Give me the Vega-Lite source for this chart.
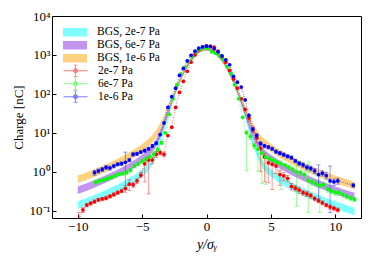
{
"$schema": "https://vega.github.io/schema/vega-lite/v6.json",
"width": 309, "height": 202,
"autosize": "none",
"padding": {"left": 52, "top": 16, "right": 13, "bottom": 41},
"config": {
  "font": "Liberation Serif",
  "view": {"stroke": "#000000", "strokeWidth": 1},
  "axis": {"grid": false, "domain": false, "tickColor": "#000000", "tickSize": -4, "labelColor": "#000000", "labelFont": "Liberation Serif", "labelFontSize": 13, "titleFont": "Liberation Serif", "titleFontWeight": "normal", "titleColor": "#000000", "titleFontSize": 13}
},
"datasets": {
"bgs": [
{"b":"BGS, 2e-7 Pa","x":-10,"lo":0.112,"hi":0.175},{"b":"BGS, 2e-7 Pa","x":-9,"lo":0.149,"hi":0.233},{"b":"BGS, 2e-7 Pa","x":-8,"lo":0.204,"hi":0.319},{"b":"BGS, 2e-7 Pa","x":-7,"lo":0.291,"hi":0.455},{"b":"BGS, 2e-7 Pa","x":-6,"lo":0.44,"hi":0.688},{"b":"BGS, 2e-7 Pa","x":-5,"lo":0.744,"hi":1.16},{"b":"BGS, 2e-7 Pa","x":-4.5,"lo":1.07,"hi":1.68},{"b":"BGS, 2e-7 Pa","x":-4,"lo":2.12,"hi":3.31},{"b":"BGS, 2e-7 Pa","x":-3.5,"lo":6.3,"hi":9.9},{"b":"BGS, 2e-7 Pa","x":-3,"lo":23.3,"hi":33.6},{"b":"BGS, 2e-7 Pa","x":-2.5,"lo":79.5,"hi":99.7},{"b":"BGS, 2e-7 Pa","x":-2,"lo":212,"hi":267},{"b":"BGS, 2e-7 Pa","x":-1.5,"lo":468,"hi":587},{"b":"BGS, 2e-7 Pa","x":-1,"lo":823,"hi":1033},{"b":"BGS, 2e-7 Pa","x":-0.5,"lo":1156,"hi":1450},{"b":"BGS, 2e-7 Pa","x":0,"lo":1295,"hi":1624},{"b":"BGS, 2e-7 Pa","x":0.5,"lo":1156,"hi":1450},{"b":"BGS, 2e-7 Pa","x":1,"lo":823,"hi":1033},{"b":"BGS, 2e-7 Pa","x":1.5,"lo":468,"hi":587},{"b":"BGS, 2e-7 Pa","x":2,"lo":212,"hi":267},{"b":"BGS, 2e-7 Pa","x":2.5,"lo":79.5,"hi":99.7},{"b":"BGS, 2e-7 Pa","x":3,"lo":23.3,"hi":33.6},{"b":"BGS, 2e-7 Pa","x":3.5,"lo":6.3,"hi":9.9},{"b":"BGS, 2e-7 Pa","x":4,"lo":2.12,"hi":3.31},{"b":"BGS, 2e-7 Pa","x":4.5,"lo":1.07,"hi":1.68},{"b":"BGS, 2e-7 Pa","x":5,"lo":0.744,"hi":1.16},{"b":"BGS, 2e-7 Pa","x":6,"lo":0.44,"hi":0.688},{"b":"BGS, 2e-7 Pa","x":7,"lo":0.291,"hi":0.455},{"b":"BGS, 2e-7 Pa","x":8,"lo":0.204,"hi":0.319},{"b":"BGS, 2e-7 Pa","x":9,"lo":0.149,"hi":0.233},{"b":"BGS, 2e-7 Pa","x":10,"lo":0.112,"hi":0.175},{"b":"BGS, 2e-7 Pa","x":11,"lo":0.086,"hi":0.135},{"b":"BGS, 2e-7 Pa","x":11.5,"lo":0.077,"hi":0.12},
{"b":"BGS, 6e-7 Pa","x":-10,"lo":0.269,"hi":0.42},{"b":"BGS, 6e-7 Pa","x":-9,"lo":0.357,"hi":0.558},{"b":"BGS, 6e-7 Pa","x":-8,"lo":0.49,"hi":0.765},{"b":"BGS, 6e-7 Pa","x":-7,"lo":0.699,"hi":1.09},{"b":"BGS, 6e-7 Pa","x":-6,"lo":1.06,"hi":1.65},{"b":"BGS, 6e-7 Pa","x":-5,"lo":1.74,"hi":2.73},{"b":"BGS, 6e-7 Pa","x":-4.5,"lo":2.4,"hi":3.75},{"b":"BGS, 6e-7 Pa","x":-4,"lo":3.94,"hi":6.16},{"b":"BGS, 6e-7 Pa","x":-3.5,"lo":8.96,"hi":14},{"b":"BGS, 6e-7 Pa","x":-3,"lo":27.5,"hi":39.6},{"b":"BGS, 6e-7 Pa","x":-2.5,"lo":85,"hi":106},{"b":"BGS, 6e-7 Pa","x":-2,"lo":216,"hi":271},{"b":"BGS, 6e-7 Pa","x":-1.5,"lo":471,"hi":590},{"b":"BGS, 6e-7 Pa","x":-1,"lo":824,"hi":1034},{"b":"BGS, 6e-7 Pa","x":-0.5,"lo":1157,"hi":1452},{"b":"BGS, 6e-7 Pa","x":0,"lo":1295,"hi":1624},{"b":"BGS, 6e-7 Pa","x":0.5,"lo":1157,"hi":1452},{"b":"BGS, 6e-7 Pa","x":1,"lo":824,"hi":1034},{"b":"BGS, 6e-7 Pa","x":1.5,"lo":471,"hi":590},{"b":"BGS, 6e-7 Pa","x":2,"lo":216,"hi":271},{"b":"BGS, 6e-7 Pa","x":2.5,"lo":85,"hi":106},{"b":"BGS, 6e-7 Pa","x":3,"lo":27.5,"hi":39.6},{"b":"BGS, 6e-7 Pa","x":3.5,"lo":8.96,"hi":14},{"b":"BGS, 6e-7 Pa","x":4,"lo":3.94,"hi":6.16},{"b":"BGS, 6e-7 Pa","x":4.5,"lo":2.4,"hi":3.75},{"b":"BGS, 6e-7 Pa","x":5,"lo":1.74,"hi":2.73},{"b":"BGS, 6e-7 Pa","x":6,"lo":1.06,"hi":1.65},{"b":"BGS, 6e-7 Pa","x":7,"lo":0.699,"hi":1.09},{"b":"BGS, 6e-7 Pa","x":8,"lo":0.49,"hi":0.765},{"b":"BGS, 6e-7 Pa","x":9,"lo":0.357,"hi":0.558},{"b":"BGS, 6e-7 Pa","x":10,"lo":0.269,"hi":0.42},{"b":"BGS, 6e-7 Pa","x":11,"lo":0.207,"hi":0.324},{"b":"BGS, 6e-7 Pa","x":11.5,"lo":0.184,"hi":0.288},
{"b":"BGS, 1e-6 Pa","x":-10,"lo":0.515,"hi":0.805},{"b":"BGS, 1e-6 Pa","x":-9,"lo":0.685,"hi":1.07},{"b":"BGS, 1e-6 Pa","x":-8,"lo":0.936,"hi":1.46},{"b":"BGS, 1e-6 Pa","x":-7,"lo":1.34,"hi":2.09},{"b":"BGS, 1e-6 Pa","x":-6,"lo":2.02,"hi":3.16},{"b":"BGS, 1e-6 Pa","x":-5,"lo":3.33,"hi":5.2},{"b":"BGS, 1e-6 Pa","x":-4.5,"lo":4.48,"hi":7.0},{"b":"BGS, 1e-6 Pa","x":-4,"lo":6.8,"hi":10.7},{"b":"BGS, 1e-6 Pa","x":-3.5,"lo":13,"hi":20.4},{"b":"BGS, 1e-6 Pa","x":-3,"lo":34.2,"hi":49.2},{"b":"BGS, 1e-6 Pa","x":-2.5,"lo":92,"hi":115},{"b":"BGS, 1e-6 Pa","x":-2,"lo":221,"hi":278},{"b":"BGS, 1e-6 Pa","x":-1.5,"lo":473,"hi":594},{"b":"BGS, 1e-6 Pa","x":-1,"lo":826,"hi":1036},{"b":"BGS, 1e-6 Pa","x":-0.5,"lo":1157,"hi":1452},{"b":"BGS, 1e-6 Pa","x":0,"lo":1295,"hi":1624},{"b":"BGS, 1e-6 Pa","x":0.5,"lo":1157,"hi":1452},{"b":"BGS, 1e-6 Pa","x":1,"lo":826,"hi":1036},{"b":"BGS, 1e-6 Pa","x":1.5,"lo":473,"hi":594},{"b":"BGS, 1e-6 Pa","x":2,"lo":221,"hi":278},{"b":"BGS, 1e-6 Pa","x":2.5,"lo":92,"hi":115},{"b":"BGS, 1e-6 Pa","x":3,"lo":34.2,"hi":49.2},{"b":"BGS, 1e-6 Pa","x":3.5,"lo":13,"hi":20.4},{"b":"BGS, 1e-6 Pa","x":4,"lo":6.8,"hi":10.7},{"b":"BGS, 1e-6 Pa","x":4.5,"lo":4.48,"hi":7.0},{"b":"BGS, 1e-6 Pa","x":5,"lo":3.33,"hi":5.2},{"b":"BGS, 1e-6 Pa","x":6,"lo":2.02,"hi":3.16},{"b":"BGS, 1e-6 Pa","x":7,"lo":1.34,"hi":2.09},{"b":"BGS, 1e-6 Pa","x":8,"lo":0.936,"hi":1.46},{"b":"BGS, 1e-6 Pa","x":9,"lo":0.685,"hi":1.07},{"b":"BGS, 1e-6 Pa","x":10,"lo":0.515,"hi":0.805},{"b":"BGS, 1e-6 Pa","x":11,"lo":0.398,"hi":0.621},{"b":"BGS, 1e-6 Pa","x":11.5,"lo":0.352,"hi":0.55}
],
"meas": [
{"s":"2e-7 Pa","x":-9.9,"v":0.06,"lo":0.03,"hi":0.09},{"s":"2e-7 Pa","x":-9.6,"v":0.105,"lo":0.09,"hi":0.12},{"s":"2e-7 Pa","x":-9.3,"v":0.14,"lo":0.125,"hi":0.155},{"s":"2e-7 Pa","x":-9.0,"v":0.155,"lo":0.14,"hi":0.17},{"s":"2e-7 Pa","x":-8.7,"v":0.17,"lo":0.155,"hi":0.19},{"s":"2e-7 Pa","x":-8.4,"v":0.19,"lo":0.17,"hi":0.21},{"s":"2e-7 Pa","x":-8.1,"v":0.2,"lo":0.18,"hi":0.22},{"s":"2e-7 Pa","x":-7.8,"v":0.21,"lo":0.19,"hi":0.235},{"s":"2e-7 Pa","x":-7.5,"v":0.235,"lo":0.21,"hi":0.26},{"s":"2e-7 Pa","x":-7.2,"v":0.26,"lo":0.235,"hi":0.29},{"s":"2e-7 Pa","x":-6.9,"v":0.29,"lo":0.26,"hi":0.32},{"s":"2e-7 Pa","x":-6.6,"v":0.32,"lo":0.29,"hi":0.36},{"s":"2e-7 Pa","x":-6.3,"v":0.37,"lo":0.3,"hi":0.45},{"s":"2e-7 Pa","x":-6.0,"v":0.48,"lo":0.33,"hi":0.62},{"s":"2e-7 Pa","x":-5.7,"v":0.46,"lo":0.4,"hi":0.53},{"s":"2e-7 Pa","x":-5.4,"v":0.58,"lo":0.5,"hi":0.66},{"s":"2e-7 Pa","x":-5.1,"v":0.82,"lo":0.7,"hi":0.95},{"s":"2e-7 Pa","x":-4.8,"v":1.6,"lo":0.55,"hi":1.9},{"s":"2e-7 Pa","x":-4.5,"v":2.0,"lo":0.27,"hi":2.4},{"s":"2e-7 Pa","x":-4.2,"v":2.0,"lo":1.6,"hi":2.4},{"s":"2e-7 Pa","x":-3.9,"v":2.8,"lo":2.3,"hi":3.3},{"s":"2e-7 Pa","x":-3.6,"v":3.1,"lo":2.7,"hi":3.6},{"s":"2e-7 Pa","x":-3.3,"v":2.8,"lo":2.4,"hi":3.2},{"s":"2e-7 Pa","x":-3.0,"v":8.5},{"s":"2e-7 Pa","x":-2.7,"v":14},{"s":"2e-7 Pa","x":-2.4,"v":45},{"s":"2e-7 Pa","x":-2.1,"v":110},{"s":"2e-7 Pa","x":-1.8,"v":210},{"s":"2e-7 Pa","x":-1.5,"v":380},{"s":"2e-7 Pa","x":-1.2,"v":650},{"s":"2e-7 Pa","x":-0.9,"v":1000},{"s":"2e-7 Pa","x":-0.6,"v":1350},{"s":"2e-7 Pa","x":-0.3,"v":1600},{"s":"2e-7 Pa","x":0.0,"v":1700},{"s":"2e-7 Pa","x":0.3,"v":1650},{"s":"2e-7 Pa","x":0.6,"v":1580},{"s":"2e-7 Pa","x":0.9,"v":1250},{"s":"2e-7 Pa","x":1.2,"v":900},{"s":"2e-7 Pa","x":1.5,"v":650},{"s":"2e-7 Pa","x":1.8,"v":400},{"s":"2e-7 Pa","x":2.1,"v":240},{"s":"2e-7 Pa","x":2.4,"v":140},{"s":"2e-7 Pa","x":2.7,"v":75},{"s":"2e-7 Pa","x":3.0,"v":40},{"s":"2e-7 Pa","x":3.3,"v":24,"lo":20,"hi":28},{"s":"2e-7 Pa","x":3.6,"v":12,"lo":10,"hi":14},{"s":"2e-7 Pa","x":3.9,"v":7.4,"lo":5.5,"hi":9},{"s":"2e-7 Pa","x":4.2,"v":4.0,"lo":1.0,"hi":5.5},{"s":"2e-7 Pa","x":4.5,"v":2.4,"lo":0.55,"hi":3.0},{"s":"2e-7 Pa","x":4.8,"v":1.7,"lo":0.52,"hi":2.2},{"s":"2e-7 Pa","x":5.1,"v":1.55,"lo":0.35,"hi":2.0},{"s":"2e-7 Pa","x":5.4,"v":1.4,"lo":0.9,"hi":1.8},{"s":"2e-7 Pa","x":5.7,"v":0.85,"lo":0.45,"hi":1.1},{"s":"2e-7 Pa","x":6.0,"v":0.78,"lo":0.6,"hi":0.95},{"s":"2e-7 Pa","x":6.3,"v":0.68,"lo":0.55,"hi":0.8},{"s":"2e-7 Pa","x":6.6,"v":0.42,"lo":0.34,"hi":0.5},{"s":"2e-7 Pa","x":6.9,"v":0.38,"lo":0.32,"hi":0.45},{"s":"2e-7 Pa","x":7.2,"v":0.34,"lo":0.28,"hi":0.4},{"s":"2e-7 Pa","x":7.5,"v":0.29,"lo":0.25,"hi":0.33},{"s":"2e-7 Pa","x":7.8,"v":0.27,"lo":0.23,"hi":0.31},{"s":"2e-7 Pa","x":8.1,"v":0.245,"lo":0.21,"hi":0.28},{"s":"2e-7 Pa","x":8.4,"v":0.205,"lo":0.18,"hi":0.23},{"s":"2e-7 Pa","x":8.7,"v":0.18,"lo":0.16,"hi":0.2},{"s":"2e-7 Pa","x":9.0,"v":0.16,"lo":0.14,"hi":0.18},{"s":"2e-7 Pa","x":9.3,"v":0.14,"lo":0.125,"hi":0.155},{"s":"2e-7 Pa","x":9.6,"v":0.125,"lo":0.11,"hi":0.14},{"s":"2e-7 Pa","x":9.9,"v":0.115,"lo":0.1,"hi":0.13},{"s":"2e-7 Pa","x":10.2,"v":0.105,"lo":0.093,"hi":0.118},
{"s":"6e-7 Pa","x":-8.6,"v":0.54,"lo":0.48,"hi":0.6},{"s":"6e-7 Pa","x":-8.3,"v":0.58,"lo":0.52,"hi":0.65},{"s":"6e-7 Pa","x":-8.0,"v":0.62,"lo":0.56,"hi":0.69},{"s":"6e-7 Pa","x":-7.7,"v":0.67,"lo":0.6,"hi":0.74},{"s":"6e-7 Pa","x":-7.4,"v":0.72,"lo":0.65,"hi":0.8},{"s":"6e-7 Pa","x":-7.1,"v":0.8,"lo":0.72,"hi":0.88},{"s":"6e-7 Pa","x":-6.8,"v":0.87,"lo":0.78,"hi":0.96},{"s":"6e-7 Pa","x":-6.5,"v":0.9,"lo":0.81,"hi":1.0},{"s":"6e-7 Pa","x":-6.2,"v":0.96,"lo":0.86,"hi":1.07},{"s":"6e-7 Pa","x":-5.9,"v":1.1,"lo":0.98,"hi":1.22},{"s":"6e-7 Pa","x":-5.6,"v":1.4,"lo":1.25,"hi":1.55},{"s":"6e-7 Pa","x":-5.3,"v":1.6,"lo":1.43,"hi":1.78},{"s":"6e-7 Pa","x":-5.0,"v":1.85,"lo":1.65,"hi":2.05},{"s":"6e-7 Pa","x":-4.7,"v":2.1,"lo":1.85,"hi":2.35},{"s":"6e-7 Pa","x":-4.4,"v":2.4,"lo":2.1,"hi":2.7},{"s":"6e-7 Pa","x":-4.1,"v":2.9,"lo":2.55,"hi":3.25},{"s":"6e-7 Pa","x":-3.8,"v":3.7,"lo":3.3,"hi":4.1},{"s":"6e-7 Pa","x":-3.5,"v":5.6,"lo":5.0,"hi":6.2},{"s":"6e-7 Pa","x":-3.2,"v":10},{"s":"6e-7 Pa","x":-2.9,"v":30},{"s":"6e-7 Pa","x":-2.6,"v":75},{"s":"6e-7 Pa","x":-2.3,"v":170},{"s":"6e-7 Pa","x":-2.0,"v":320},{"s":"6e-7 Pa","x":-1.7,"v":480},{"s":"6e-7 Pa","x":-1.4,"v":680},{"s":"6e-7 Pa","x":-1.1,"v":900},{"s":"6e-7 Pa","x":-0.8,"v":1200},{"s":"6e-7 Pa","x":-0.5,"v":1400},{"s":"6e-7 Pa","x":-0.2,"v":1550},{"s":"6e-7 Pa","x":0.1,"v":1500},{"s":"6e-7 Pa","x":0.4,"v":1200},{"s":"6e-7 Pa","x":0.7,"v":1100},{"s":"6e-7 Pa","x":1.0,"v":950},{"s":"6e-7 Pa","x":1.3,"v":760},{"s":"6e-7 Pa","x":1.6,"v":500},{"s":"6e-7 Pa","x":1.9,"v":330},{"s":"6e-7 Pa","x":2.2,"v":170},{"s":"6e-7 Pa","x":2.5,"v":75},{"s":"6e-7 Pa","x":2.8,"v":25},{"s":"6e-7 Pa","x":3.1,"v":10,"lo":1.05,"hi":11.5},{"s":"6e-7 Pa","x":3.4,"v":8,"lo":6.8,"hi":9.2},{"s":"6e-7 Pa","x":3.7,"v":4.7,"lo":4.0,"hi":5.4},{"s":"6e-7 Pa","x":4.0,"v":3.8,"lo":1.05,"hi":4.6},{"s":"6e-7 Pa","x":4.3,"v":3.0,"lo":0.5,"hi":3.6},{"s":"6e-7 Pa","x":4.6,"v":2.4,"lo":0.48,"hi":2.9},{"s":"6e-7 Pa","x":4.9,"v":2.15,"lo":1.8,"hi":2.5},{"s":"6e-7 Pa","x":5.2,"v":1.95,"lo":1.65,"hi":2.25},{"s":"6e-7 Pa","x":5.5,"v":1.75,"lo":1.5,"hi":2.0},{"s":"6e-7 Pa","x":5.8,"v":1.6,"lo":0.35,"hi":1.9},{"s":"6e-7 Pa","x":6.1,"v":1.45,"lo":1.25,"hi":1.65},{"s":"6e-7 Pa","x":6.4,"v":1.3,"lo":1.1,"hi":1.5},{"s":"6e-7 Pa","x":6.7,"v":1.15,"lo":0.97,"hi":1.33},{"s":"6e-7 Pa","x":7.0,"v":1.0,"lo":0.13,"hi":1.9},{"s":"6e-7 Pa","x":7.3,"v":0.95,"lo":0.8,"hi":1.1},{"s":"6e-7 Pa","x":7.6,"v":0.85,"lo":0.7,"hi":1.0},{"s":"6e-7 Pa","x":7.9,"v":0.6,"lo":0.09,"hi":1.8},{"s":"6e-7 Pa","x":8.2,"v":0.55,"lo":0.45,"hi":0.65},{"s":"6e-7 Pa","x":8.5,"v":0.5,"lo":0.41,"hi":0.59},{"s":"6e-7 Pa","x":8.8,"v":0.45,"lo":0.09,"hi":0.9},{"s":"6e-7 Pa","x":9.1,"v":0.47,"lo":0.39,"hi":0.55},{"s":"6e-7 Pa","x":9.4,"v":0.36,"lo":0.3,"hi":0.42},{"s":"6e-7 Pa","x":9.7,"v":0.32,"lo":0.27,"hi":0.37},{"s":"6e-7 Pa","x":10.0,"v":0.29,"lo":0.25,"hi":0.33},{"s":"6e-7 Pa","x":10.3,"v":0.29,"lo":0.25,"hi":0.33},{"s":"6e-7 Pa","x":10.6,"v":0.26,"lo":0.22,"hi":0.3},{"s":"6e-7 Pa","x":10.9,"v":0.23,"lo":0.2,"hi":0.26},{"s":"6e-7 Pa","x":11.2,"v":0.21,"lo":0.18,"hi":0.24},{"s":"6e-7 Pa","x":11.5,"v":0.195,"lo":0.17,"hi":0.22},
{"s":"1e-6 Pa","x":-8.7,"v":0.95,"lo":0.82,"hi":1.08},{"s":"1e-6 Pa","x":-8.4,"v":1.05,"lo":0.92,"hi":1.18},{"s":"1e-6 Pa","x":-8.1,"v":1.15,"lo":1.02,"hi":1.3},{"s":"1e-6 Pa","x":-7.8,"v":1.3,"lo":1.15,"hi":1.45},{"s":"1e-6 Pa","x":-7.5,"v":1.25,"lo":1.1,"hi":1.4},{"s":"1e-6 Pa","x":-7.2,"v":1.4,"lo":1.25,"hi":1.55},{"s":"1e-6 Pa","x":-6.9,"v":1.56,"lo":1.4,"hi":1.72},{"s":"1e-6 Pa","x":-6.6,"v":1.62,"lo":1.45,"hi":1.8},{"s":"1e-6 Pa","x":-6.3,"v":1.75,"lo":0.38,"hi":3.2},{"s":"1e-6 Pa","x":-6.0,"v":2.0,"lo":1.8,"hi":2.2},{"s":"1e-6 Pa","x":-5.7,"v":2.8,"lo":2.5,"hi":3.1},{"s":"1e-6 Pa","x":-5.4,"v":2.9,"lo":2.6,"hi":3.2},{"s":"1e-6 Pa","x":-5.1,"v":3.2,"lo":2.9,"hi":3.5},{"s":"1e-6 Pa","x":-4.8,"v":3.5,"lo":3.15,"hi":3.85},{"s":"1e-6 Pa","x":-4.5,"v":3.9,"lo":3.5,"hi":4.3},{"s":"1e-6 Pa","x":-4.2,"v":4.6,"lo":4.15,"hi":5.05},{"s":"1e-6 Pa","x":-3.9,"v":5.4,"lo":4.9,"hi":5.9},{"s":"1e-6 Pa","x":-3.6,"v":9.0},{"s":"1e-6 Pa","x":-3.3,"v":18},{"s":"1e-6 Pa","x":-3.0,"v":45},{"s":"1e-6 Pa","x":-2.7,"v":85},{"s":"1e-6 Pa","x":-2.4,"v":140},{"s":"1e-6 Pa","x":-2.1,"v":300},{"s":"1e-6 Pa","x":-1.8,"v":450},{"s":"1e-6 Pa","x":-1.5,"v":700},{"s":"1e-6 Pa","x":-1.2,"v":980},{"s":"1e-6 Pa","x":-0.9,"v":1250},{"s":"1e-6 Pa","x":-0.6,"v":1500},{"s":"1e-6 Pa","x":-0.3,"v":1620},{"s":"1e-6 Pa","x":0.0,"v":1680},{"s":"1e-6 Pa","x":0.3,"v":1670},{"s":"1e-6 Pa","x":0.6,"v":1450},{"s":"1e-6 Pa","x":0.9,"v":1200},{"s":"1e-6 Pa","x":1.2,"v":950},{"s":"1e-6 Pa","x":1.5,"v":750},{"s":"1e-6 Pa","x":1.8,"v":560},{"s":"1e-6 Pa","x":2.1,"v":280},{"s":"1e-6 Pa","x":2.4,"v":200},{"s":"1e-6 Pa","x":2.7,"v":150},{"s":"1e-6 Pa","x":3.0,"v":70},{"s":"1e-6 Pa","x":3.3,"v":28},{"s":"1e-6 Pa","x":3.6,"v":12.5,"lo":11,"hi":14},{"s":"1e-6 Pa","x":3.9,"v":8.5,"lo":7.5,"hi":9.6},{"s":"1e-6 Pa","x":4.2,"v":5.3,"lo":4.7,"hi":5.9},{"s":"1e-6 Pa","x":4.5,"v":4.6,"lo":4.1,"hi":5.1},{"s":"1e-6 Pa","x":4.8,"v":4.3,"lo":3.85,"hi":4.75},{"s":"1e-6 Pa","x":5.1,"v":3.9,"lo":3.5,"hi":4.3},{"s":"1e-6 Pa","x":5.4,"v":3.3,"lo":2.95,"hi":3.65},{"s":"1e-6 Pa","x":5.7,"v":3.0,"lo":2.7,"hi":3.3},{"s":"1e-6 Pa","x":6.0,"v":2.75,"lo":2.45,"hi":3.05},{"s":"1e-6 Pa","x":6.3,"v":2.5,"lo":2.25,"hi":2.75},{"s":"1e-6 Pa","x":6.6,"v":2.3,"lo":2.05,"hi":2.55},{"s":"1e-6 Pa","x":6.9,"v":1.9,"lo":1.7,"hi":2.1},{"s":"1e-6 Pa","x":7.2,"v":1.65,"lo":1.45,"hi":1.85},{"s":"1e-6 Pa","x":7.5,"v":1.5,"lo":1.3,"hi":1.7},{"s":"1e-6 Pa","x":7.8,"v":1.3,"lo":1.12,"hi":1.48},{"s":"1e-6 Pa","x":8.1,"v":1.22,"lo":1.05,"hi":1.4},{"s":"1e-6 Pa","x":8.4,"v":1.05,"lo":0.9,"hi":1.2},{"s":"1e-6 Pa","x":8.7,"v":0.85,"lo":0.2,"hi":1.5},{"s":"1e-6 Pa","x":9.0,"v":0.92,"lo":0.78,"hi":1.06},{"s":"1e-6 Pa","x":9.3,"v":0.8,"lo":0.65,"hi":0.95},{"s":"1e-6 Pa","x":9.6,"v":0.58,"lo":0.09,"hi":1.4},{"s":"1e-6 Pa","x":9.9,"v":0.55,"lo":0.45,"hi":0.65},{"s":"1e-6 Pa","x":10.2,"v":0.58,"lo":0.48,"hi":0.68},{"s":"1e-6 Pa","x":11.4,"v":0.45,"lo":0.4,"hi":0.5}
]
},
"layer": [
 {
  "data": {"name": "bgs"},
  "mark": {"type": "area", "opacity": 0.5, "interpolate": "monotone", "clip": true},
  "encoding": {
   "x": {"field": "x", "type": "quantitative", "scale": {"domain": [-12, 12], "nice": false}, "axis": {"values": [-10, -5, 0, 5, 10], "title": "y/σᵧ", "titleFontStyle": "italic", "titleFontSize": 14, "labelPadding": 6}},
   "y": {"field": "lo", "type": "quantitative", "stack": null, "scale": {"type": "log", "domain": [0.065, 10000], "nice": false}, "axis": {"values": [0.1, 1, 10, 100, 1000, 10000], "labelExpr": "datum.value >= 9999 ? '10⁴' : datum.value >= 999 ? '10³' : datum.value >= 99 ? '10²' : datum.value >= 9 ? '10¹' : datum.value >= 0.9 ? '10⁰' : '10⁻¹'", "title": "Charge [nC]", "labelPadding": 6}},
   "y2": {"field": "hi"},
   "color": {"field": "b", "type": "nominal", "scale": {"domain": ["BGS, 2e-7 Pa", "BGS, 6e-7 Pa", "BGS, 1e-6 Pa"], "range": ["#00ffff", "#8a2be2", "#ffa500"]},
     "legend": {"title": null, "orient": "none", "legendX": 11, "legendY": 10, "symbolType": "M-1,-0.36H1V0.36H-1Z", "symbolSize": 576, "symbolStrokeWidth": 0, "clipHeight": 12.5, "rowPadding": 0, "labelFontSize": 11.5, "labelFont": "Liberation Serif", "labelOffset": 10, "labelColor": "#000000"}}
  }
 },
 {
  "data": {"name": "meas"},
  "encoding": {
   "x": {"field": "x", "type": "quantitative"},
   "color": {"field": "s", "type": "nominal", "scale": {"domain": ["2e-7 Pa", "6e-7 Pa", "1e-6 Pa"], "range": ["#ff0000", "#00ff00", "#0000ff"]},
     "legend": {"title": null, "orient": "none", "legendX": 11, "legendY": 48.5, "symbolType": "M-1,0H1M0,-0.5V0.5M-0.17,-0.5H0.17M-0.17,0.5H0.17M0.18,0A0.18,0.18,0,1,1,-0.18,0A0.18,0.18,0,1,1,0.18,0Z", "symbolSize": 576, "symbolStrokeWidth": 1, "clipHeight": 12.5, "rowPadding": 0, "labelFontSize": 11.5, "labelFont": "Liberation Serif", "labelOffset": 10, "labelColor": "#000000"}}
  },
  "layer": [
   {"mark": {"type": "rule", "strokeWidth": 0.8, "opacity": 0.5, "clip": true}, "encoding": {"y": {"field": "lo", "type": "quantitative"}, "y2": {"field": "hi"}}},
   {"mark": {"type": "tick", "orient": "horizontal", "size": 4, "thickness": 0.8, "opacity": 0.5, "clip": true}, "encoding": {"y": {"field": "lo", "type": "quantitative"}}},
   {"mark": {"type": "tick", "orient": "horizontal", "size": 4, "thickness": 0.8, "opacity": 0.5, "clip": true}, "encoding": {"y": {"field": "hi", "type": "quantitative"}}},
   {"mark": {"type": "line", "strokeWidth": 1, "strokeDash": [1, 1.5], "opacity": 0.6, "clip": true}, "encoding": {"y": {"field": "v", "type": "quantitative"}}},
   {"mark": {"type": "circle", "size": 14, "opacity": 1, "clip": true}, "encoding": {"y": {"field": "v", "type": "quantitative"}}}
  ]
 }
],
"resolve": {"scale": {"color": "independent"}}
}
